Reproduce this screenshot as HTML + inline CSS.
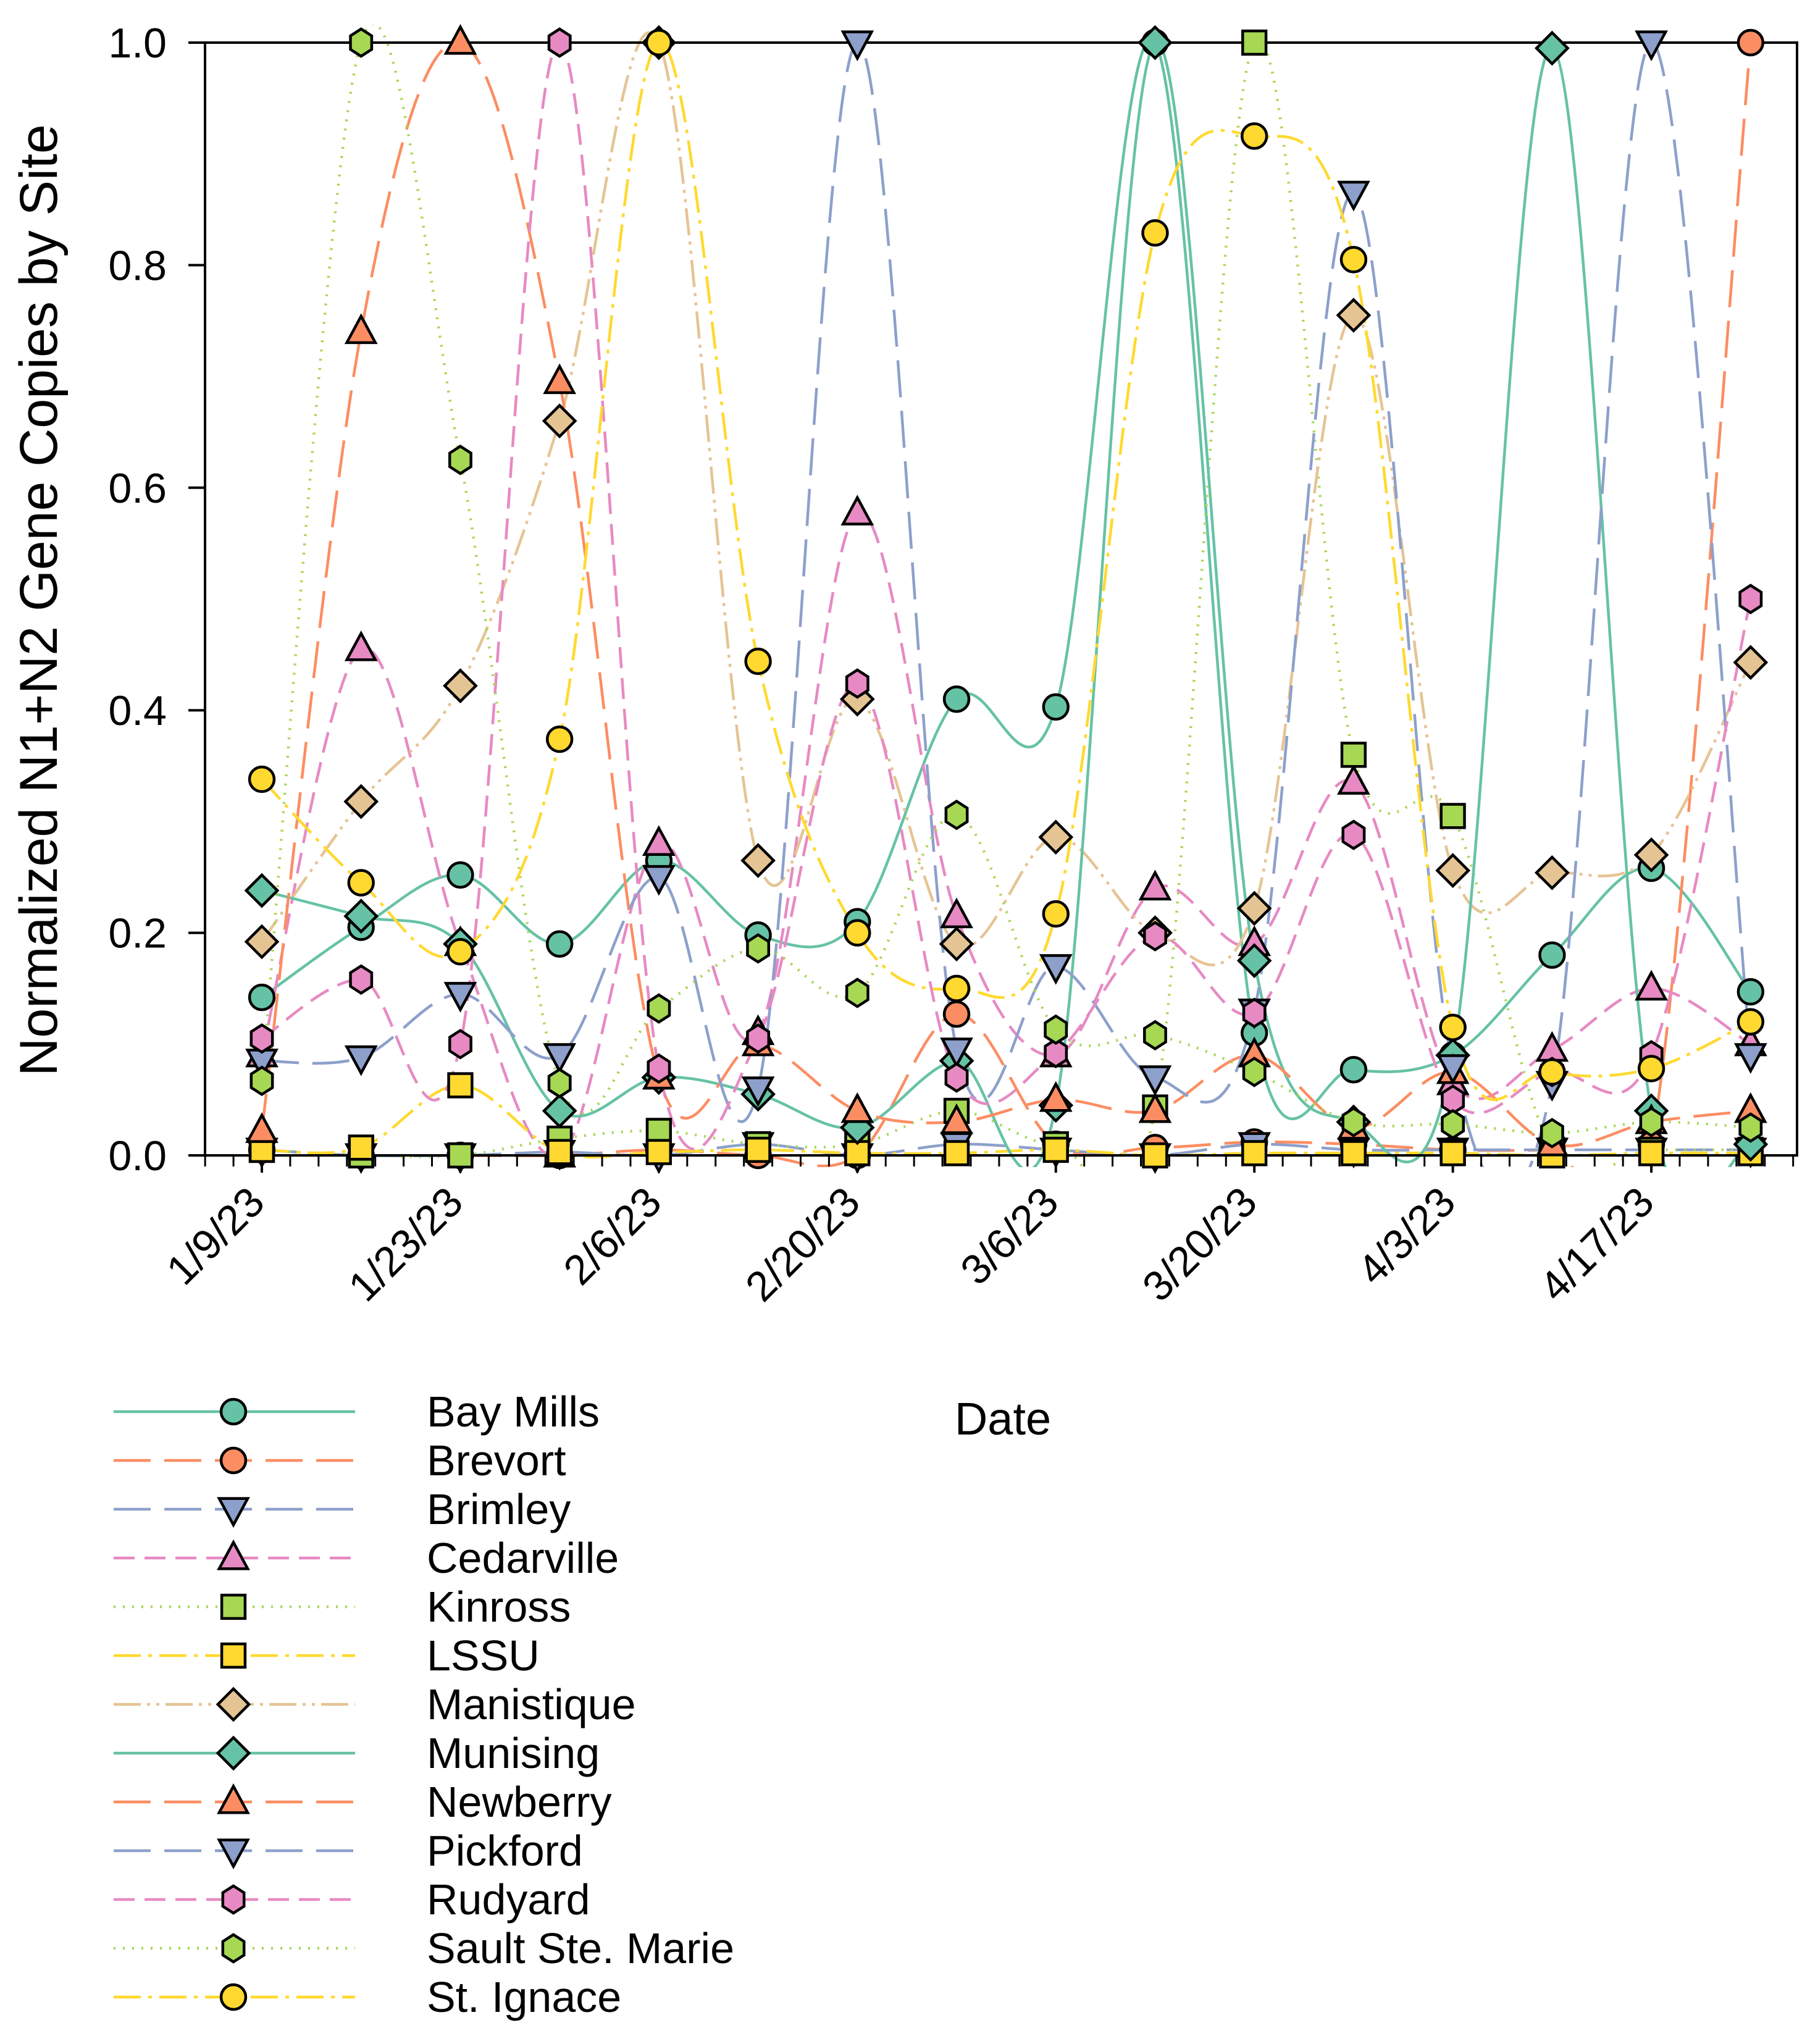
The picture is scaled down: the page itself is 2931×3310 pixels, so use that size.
<!DOCTYPE html>
<html><head><meta charset="utf-8">
<style>
html,body{margin:0;padding:0;background:#fff;}
svg{display:block;font-family:"Liberation Sans",Arial,sans-serif;}
</style></head>
<body>
<svg id="chart" width="2931" height="3310" viewBox="0 0 2931 3310" xmlns="http://www.w3.org/2000/svg">
<defs><clipPath id="plotclip"><rect x="332" y="40" width="2578" height="1850"/></clipPath></defs>
<rect x="0" y="0" width="2931" height="3310" fill="#fff"/>
<text x="0" y="0" transform="translate(92,972) rotate(-90)" text-anchor="middle" font-size="86" fill="#000">Normalized N1+N2 Gene Copies by Site</text>
<text x="1624" y="2323" text-anchor="middle" font-size="74" fill="#000">Date</text>
<g id="lines" clip-path="url(#plotclip)"></g>
<g id="axes"></g>
<g id="markers"></g>
<g id="legend"></g>
</svg>
<script>
const dateLabels = ["1/9/23","1/16/23","1/23/23","1/30/23","2/6/23","2/13/23","2/20/23","2/27/23","3/6/23","3/13/23","3/20/23","3/27/23","4/3/23","4/10/23","4/17/23","4/24/23"];
const dayOffsets = [0,7,14,21,28,35,42,49,56,63,70,77,84,91,98,105];
const xTickLabels = ["1/9/23","1/23/23","2/6/23","2/20/23","3/6/23","3/20/23","4/3/23","4/17/23"];
const xTickDays = [0,14,28,42,56,70,84,98];
const yTicks = [0,0.2,0.4,0.6,0.8,1.0];
const yTickLabels = ["0.0","0.2","0.4","0.6","0.8","1.0"];
const seriesNames = ["Bay Mills","Brevort","Brimley","Cedarville","Kinross","LSSU","Manistique","Munising","Newberry","Pickford","Rudyard","Sault Ste. Marie","St. Ignace"];
const bayMills   = [0.142,0.205,0.252,0.19,0.265,0.198,0.21,0.41,0.403,1.0,0.11,0.077,0.09,0.18,0.258,0.147];
const brevort    = [0.005,0.0,0.0,0.0,0.005,0.0,0.0,0.127,0.01,0.007,0.012,0.01,0.005,0.005,0.01,1.0];
const brimley    = [0.005,0.0,0.0,0.003,0.0,0.01,0.0,0.01,0.005,0.0,0.01,0.005,0.005,0.005,0.005,0.005];
const cedarville = [0.09,0.455,0.19,0.0,0.28,0.11,0.577,0.215,0.09,0.24,0.19,0.335,0.065,0.095,0.15,0.1];
const kinross    = [0.005,0.0,0.0,0.015,0.022,0.01,0.01,0.04,0.01,0.043,1.0,0.36,0.305,0.005,0.005,0.005];
const lssu       = [0.005,0.007,0.063,0.003,0.003,0.005,0.002,0.002,0.005,0.0,0.002,0.002,0.002,0.0,0.002,0.002];
const manistique = [0.192,0.318,0.422,0.66,1.0,0.265,0.41,0.19,0.286,0.2,0.222,0.755,0.256,0.254,0.27,0.443];
const munising   = [0.238,0.215,0.19,0.04,0.07,0.055,0.025,0.085,0.045,1.0,0.175,0.03,0.09,0.995,0.04,0.01];
const newberry   = [0.022,0.74,1.0,0.695,0.07,0.1,0.04,0.03,0.05,0.04,0.09,0.025,0.075,0.01,0.03,0.04];
const pickford   = [0.085,0.088,0.145,0.09,0.25,0.06,1.0,0.095,0.17,0.07,0.13,0.865,0.08,0.065,1.0,0.09];
const rudyard    = [0.105,0.158,0.1,1.0,0.078,0.105,0.424,0.07,0.092,0.197,0.128,0.288,0.05,0.075,0.09,0.5];
const saultSte   = [0.067,1.0,0.625,0.065,0.132,0.186,0.146,0.306,0.113,0.108,0.075,0.03,0.028,0.02,0.03,0.025];
const stIgnace   = [0.338,0.245,0.183,0.374,1.0,0.444,0.2,0.15,0.217,0.829,0.916,0.805,0.115,0.075,0.078,0.12];

const seriesValues = [bayMills,brevort,brimley,cedarville,kinross,lssu,manistique,munising,newberry,pickford,rudyard,saultSte,stIgnace];
const styles = [
 {c:"#66c2a5",m:"circle",d:""},
 {c:"#fc8d62",m:"circle",d:"60 22"},
 {c:"#8da0cb",m:"tdown",d:"60 22"},
 {c:"#e78ac3",m:"tup",d:"34 16"},
 {c:"#a6d854",m:"square",d:"3 12"},
 {c:"#ffd92f",m:"square",d:"44 12 6 12"},
 {c:"#e5c494",m:"diamond",d:"44 10 5 10 5 10"},
 {c:"#66c2a5",m:"diamond",d:""},
 {c:"#fc8d62",m:"tup",d:"60 22"},
 {c:"#8da0cb",m:"tdown",d:"60 22"},
 {c:"#e78ac3",m:"hex",d:"34 16"},
 {c:"#a6d854",m:"hex",d:"3 12"},
 {c:"#ffd92f",m:"circle",d:"44 12 6 12"}
];

const NS="http://www.w3.org/2000/svg";
const X0=424, PXDAY=22.96, Y0=1871, Y1=69, AXL=332, AXR=2910;
function xs(day){return X0+day*PXDAY;}
function ys(v){return Y0-(Y0-Y1)*v;}
function mk(tag,attrs,parent){const e=document.createElementNS(NS,tag);for(const k in attrs)e.setAttribute(k,attrs[k]);parent.appendChild(e);return e;}

const axes=document.getElementById('axes');
let e;
e=mk('rect',{x:AXL,y:Y1,width:AXR-AXL,height:Y0-Y1,fill:"none",stroke:"#000","stroke-width":4},axes);


yTicks.forEach((v,i)=>{
  const t=mk('line',{x1:AXL-27,x2:AXL,y1:ys(v),y2:ys(v),stroke:"#000","stroke-width":4},axes);
  
  
  const l=mk('text',{x:AXL-62,y:ys(v)+24,"text-anchor":"end","font-size":68,fill:"#000"},axes);
  l.textContent=yTickLabels[i];
  
  
});
for(let d=-4; xs(d)<=AXR; d+=2){
  const t=mk('line',{x1:xs(d),x2:xs(d),y1:Y0,y2:Y0+18,stroke:"#000","stroke-width":3},axes);
  
  
}
xTickDays.forEach((d,i)=>{
  const t=mk('line',{x1:xs(d),x2:xs(d),y1:Y0,y2:Y0+28,stroke:"#000","stroke-width":4},axes);
  
  
  const l=mk('text',{x:0,y:0,"text-anchor":"end","font-size":68,fill:"#000",transform:`translate(${xs(d)+8},${Y0+80}) rotate(-45)`},axes);
  l.textContent=xTickLabels[i];
  
  
});

function splinePath(pts){
  let p=`M${pts[0][0]},${pts[0][1]}`;
  for(let i=0;i<pts.length-1;i++){
    const p0=pts[Math.max(0,i-1)],p1=pts[i],p2=pts[i+1],p3=pts[Math.min(pts.length-1,i+2)];
    const c1=[p1[0]+(p2[0]-p0[0])/6,p1[1]+(p2[1]-p0[1])/6];
    const c2=[p2[0]-(p3[0]-p1[0])/6,p2[1]-(p3[1]-p1[1])/6];
    p+=` C${c1[0]},${c1[1]} ${c2[0]},${c2[1]} ${p2[0]},${p2[1]}`;
  }
  return p;
}
function marker(type,x,y,color,parent,s){
  s=s||1.05;let el;
  const a={fill:color,stroke:"#000","stroke-width":4.5};
  if(type==="circle"){el=mk('circle',Object.assign({cx:x,cy:y,r:19*s},a),parent);}
  else if(type==="square"){el=mk('rect',Object.assign({x:x-18*s,y:y-18*s,width:36*s,height:36*s},a),parent);}
  else if(type==="tup"){const r=22*s;el=mk('polygon',Object.assign({points:`${x},${y-r*1.1} ${x+r},${y+r*0.75} ${x-r},${y+r*0.75}`},a),parent);}
  else if(type==="tdown"){const r=22*s;el=mk('polygon',Object.assign({points:`${x},${y+r*1.1} ${x+r},${y-r*0.75} ${x-r},${y-r*0.75}`},a),parent);}
  else if(type==="diamond"){const r=24*s;el=mk('polygon',Object.assign({points:`${x},${y-r} ${x+r},${y} ${x},${y+r} ${x-r},${y}`},a),parent);}
  else {const r=21*s;let pts=[];for(let k=0;k<6;k++){const an=Math.PI/2+k*Math.PI/3;pts.push(`${x+r*0.9*Math.cos(an)},${y-r*Math.sin(an)}`);}el=mk('polygon',Object.assign({points:pts.join(' ')},a),parent);}
  return el;
}
const lines=document.getElementById('lines'),marks=document.getElementById('markers');
seriesValues.forEach((vals,si)=>{
  const st=styles[si];
  const pts=vals.map((v,i)=>[xs(dayOffsets[i]),ys(v)]);
  const p=mk('path',{d:splinePath(pts),fill:"none",stroke:st.c,"stroke-width":4.5,"stroke-dasharray":st.d},lines);
  
  
});
seriesValues.forEach((vals,si)=>{
  const st=styles[si];
  vals.forEach((v,i)=>{
    const m=marker(st.m,xs(dayOffsets[i]),ys(v),st.c,marks);
    
    
  });
});
const leg=document.getElementById('legend');
seriesNames.forEach((n,si)=>{
  const st=styles[si];const y=2286+si*79;
  const g=mk('g',{},leg);
  
  
  mk('line',{x1:184,x2:575,y1:y,y2:y,stroke:st.c,"stroke-width":4.5,"stroke-dasharray":st.d},g);
  marker(st.m,378,y,st.c,g);
  const t=mk('text',{x:691,y:y+24,"font-size":70,fill:"#000"},g);
  t.textContent=n;
});
</script>
</body></html>
